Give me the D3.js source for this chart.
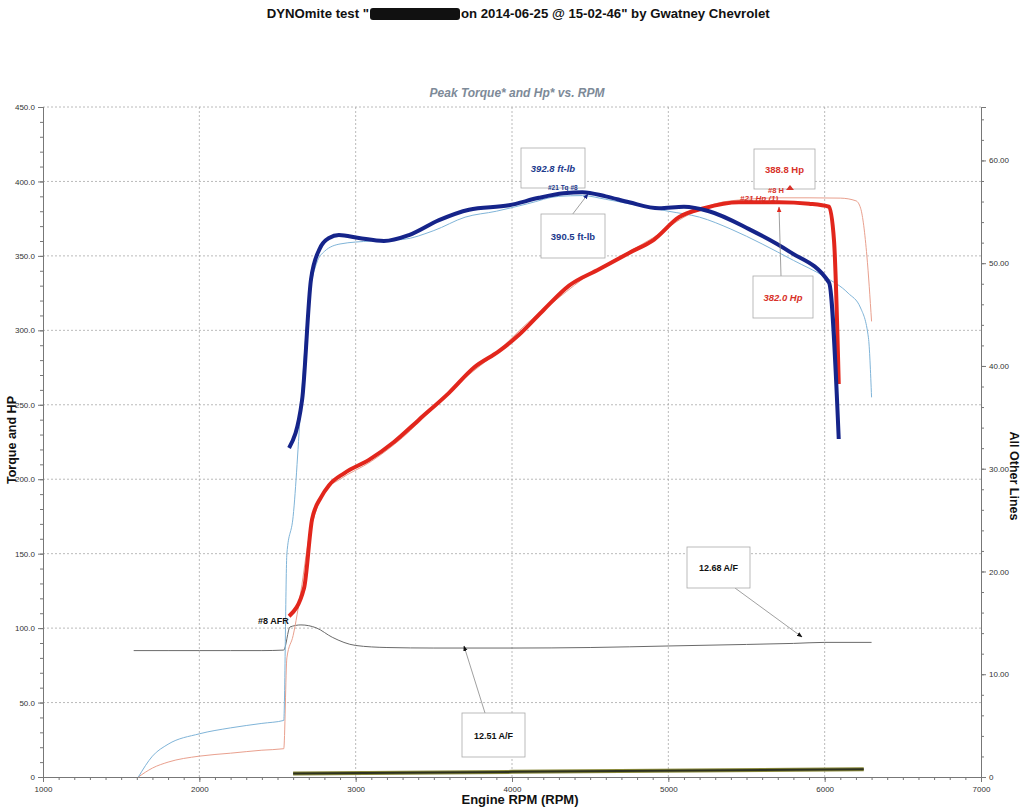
<!DOCTYPE html>
<html><head><meta charset="utf-8">
<script src="https://cdn.jsdelivr.net/npm/d3@7"></script>
<style>body{margin:0;background:#fff}svg{display:block;font-family:"Liberation Sans",Arial,sans-serif}</style>
</head><body><svg id="c" width="1024" height="810"></svg>
<script>
// ---------- data ----------
const xTicks = [1000,2000,3000,4000,5000,6000,7000];
const leftTicks = [0,50,100,150,200,250,300,350,400,450];
const leftTickLabels = ["0","50.0","100.0","150.0","200.0","250.0","300.0","350.0","400.0","450.0"];
const rightTicks = [0,10,20,30,40,50,60];
const rightTickLabels = ["0","10.00","20.00","30.00","40.00","50.00","60.00"];

// bold torque (ft-lb), current run
const tqRpm = [2574,2657,2714,2766,2830,2893,3021,3181,3341,3533,3725,3981,4173,4330,4450,4600,4749,4941,5100,5260,5516,5772,6028,6090];
const tqVal = [221,253,334,354,362,364,362,360,364,374,381,384,389,392,392.8,390,386,382,383,380,368,353,332,227];
// bold hp, current run
const hpRpm = [2574,2670,2721,2779,2830,2926,3085,3245,3405,3597,3757,3917,4045,4205,4365,4557,4749,4909,5068,5228,5452,5708,5900,6028,6060,6090];
const hpVal = [108,127,173,188,196,204,213,225,240,258,275,286,297,314,330,341,352,361,376,382,386,386,385,383,360,264];
// thin torque, previous run (#8)
const tq2Rpm = [1610,1700,1800,2000,2200,2400,2540,2560,2600,2650,2700,2750,2800,2900,3100,3300,3500,3700,3900,4100,4300,4450,4600,4800,5000,5200,5400,5600,5800,6000,6150,6230,6280,6300];
const tq2Val = [0,14,22,29,33,36,38,150,175,250,320,345,353,358,360,361,367,376,380,385,390,390.5,388,384,380,376,368,358,347,336,325,315,295,255];
// thin hp, previous run (#8)
const hp2Rpm = [1610,1700,1800,2000,2200,2400,2540,2560,2600,2650,2700,2750,2800,2900,3100,3300,3500,3700,3900,4100,4300,4500,4700,4900,5100,5300,5500,5700,5900,6100,6200,6230,6270,6300];
const hp2Val = [0,6,10,14,16,18,19,80,95,125,160,180,192,200,212,228,248,268,285,305,322,338,350,362,376,385,388,389,389,388.8,387,382,350,306];
// air/fuel ratio (right axis)
const afrRpm = [1580,1800,2000,2200,2400,2540,2580,2650,2750,2850,3000,3200,3500,4000,4500,5000,5500,5800,6000,6300];
const afrVal = [12.3,12.3,12.3,12.3,12.3,12.35,14.6,14.8,14.5,13.6,12.8,12.6,12.55,12.55,12.6,12.75,12.9,13.0,13.1,13.1];
// bottom trace (right axis)
const botRpm = [2600,4000,6250];
const botVal = [0.35,0.5,0.75];

// ---------- layout ----------
const W = 1024, H = 810;
const L = 43, R = 981, T = 107, B = 777;
const svg = d3.select("#c");
const x = d3.scaleLinear().domain([1000,7000]).range([L,R]);
const yL = d3.scaleLinear().domain([0,450]).range([B,T]);
const yR = d3.scaleLinear().domain([0,65.2]).range([B,T]);

svg.append("rect").attr("width",W).attr("height",H).attr("fill","#fff");

// title
const title = svg.append("g").attr("font-weight","bold").attr("font-size",13.2).attr("fill","#111");
title.append("text").attr("x",369).attr("y",18).attr("text-anchor","end").text('DYNOmite test "');
svg.append("rect").attr("x",370).attr("y",8).attr("width",90).attr("height",12).attr("fill","#111").attr("rx",3);
title.append("text").attr("x",461).attr("y",18).text(' on 2014-06-25 @ 15-02-46" by Gwatney Chevrolet');

svg.append("text").attr("x",517).attr("y",97).attr("text-anchor","middle")
  .attr("font-size",12).attr("font-style","italic").attr("font-weight","bold").attr("fill","#7d8a98")
  .text("Peak Torque* and Hp* vs. RPM");

// grid
const grid = svg.append("g").attr("stroke","#a8a8a8").attr("stroke-width",0.8).attr("stroke-dasharray","2,2");
grid.selectAll("line.h").data(leftTicks.filter(d=>d>0)).join("line")
  .attr("x1",L).attr("x2",R).attr("y1",d=>yL(d)).attr("y2",d=>yL(d));
grid.selectAll("line.v").data(xTicks.filter(d=>d>1000&&d<7000)).join("line")
  .attr("x1",d=>x(d)).attr("x2",d=>x(d)).attr("y1",T).attr("y2",B);

// axes
const axCol = "#777";
const gL = svg.append("g").attr("transform",`translate(${L},0)`)
  .call(d3.axisLeft(yL).tickValues(leftTicks).tickFormat((d,i)=>leftTickLabels[i]).tickSize(5));
const gLm = svg.append("g").attr("transform",`translate(${L},0)`)
  .call(d3.axisLeft(yL).tickValues(d3.range(0,451,10)).tickFormat("").tickSize(3));
const gR = svg.append("g").attr("transform",`translate(${R},0)`)
  .call(d3.axisRight(yR).tickValues(rightTicks).tickFormat((d,i)=>rightTickLabels[i]).tickSize(5));
const gRm = svg.append("g").attr("transform",`translate(${R},0)`)
  .call(d3.axisRight(yR).tickValues(d3.range(0,65,2)).tickFormat("").tickSize(3));
const gB = svg.append("g").attr("transform",`translate(0,${B})`)
  .call(d3.axisBottom(x).tickValues(xTicks).tickFormat(d3.format("d")).tickSize(5));
const gBm = svg.append("g").attr("transform",`translate(0,${B})`)
  .call(d3.axisBottom(x).tickValues(d3.range(1000,7001,100)).tickFormat("").tickSize(3));
[gL,gLm,gR,gRm,gB,gBm].forEach(g=>{
  g.selectAll("path").attr("stroke",axCol).attr("stroke-width",1);
  g.selectAll("line").attr("stroke",axCol);
  g.selectAll("text").attr("font-size",8).attr("fill","#333").attr("font-family","Liberation Sans, Arial, sans-serif");
});
gR.selectAll("text").attr("x",8);
gB.selectAll("text").attr("y",9);

// axis titles
svg.append("text").attr("transform","translate(16,440) rotate(-90)").attr("text-anchor","middle")
  .attr("font-weight","bold").attr("font-size",12.5).attr("fill","#111").text("Torque and HP");
svg.append("text").attr("transform","translate(1010,476) rotate(90)").attr("text-anchor","middle")
  .attr("font-weight","bold").attr("font-size",12.5).attr("fill","#111").text("All Other Lines");
svg.append("text").attr("x",520).attr("y",804).attr("text-anchor","middle")
  .attr("font-weight","bold").attr("font-size",13).attr("fill","#111").text("Engine RPM (RPM)");

// lines
const lineL = d3.line().x(d=>x(d[0])).y(d=>yL(d[1])).curve(d3.curveMonotoneX);
const lineR = d3.line().x(d=>x(d[0])).y(d=>yR(d[1])).curve(d3.curveMonotoneX);
const zip = (a,b)=>a.map((v,i)=>[v,b[i]]);
const plot = svg.append("g").attr("fill","none").attr("stroke-linejoin","round");

plot.append("path").attr("d",d3.line().x(d=>x(d[0])).y(d=>yR(d[1]))(zip(botRpm,botVal)))
  .attr("stroke","#8a8a3a").attr("stroke-width",4);
plot.append("path").attr("d",d3.line().x(d=>x(d[0])).y(d=>yR(d[1]))(zip(botRpm,botVal)))
  .attr("stroke","#2e3220").attr("stroke-width",2);
plot.append("path").attr("d",lineR(zip(afrRpm,afrVal))).attr("stroke","#6a6a6a").attr("stroke-width",1);
plot.append("path").attr("d",lineL(zip(hp2Rpm,hp2Val))).attr("stroke","#e9a08e").attr("stroke-width",1);
plot.append("path").attr("d",lineL(zip(tq2Rpm,tq2Val))).attr("stroke","#7fb4d8").attr("stroke-width",1);
plot.append("path").attr("d",lineL(zip(hpRpm,hpVal))).attr("stroke","#e2261c").attr("stroke-width",4);
plot.append("path").attr("d",lineL(zip(tqRpm,tqVal))).attr("stroke","#15248a").attr("stroke-width",4);

// annotations
const defs = svg.append("defs");
[["arB","#15248a"],["arR","#e2261c"],["arK","#111"]].forEach(([id,c])=>{
  defs.append("marker").attr("id",id).attr("viewBox","0 0 10 10").attr("refX",9).attr("refY",5)
    .attr("markerWidth",7).attr("markerHeight",9).attr("orient","auto-start-reverse")
    .append("path").attr("d","M0,1 L10,5 L0,9 Z").attr("fill",c);
});
const ann = svg.append("g");
function box(x0,y0,w,h,txt,col,italic,size){
  ann.append("rect").attr("x",x0).attr("y",y0).attr("width",w).attr("height",h)
    .attr("fill","#fff").attr("stroke","#aaa").attr("stroke-width",0.8);
  ann.append("text").attr("x",x0+w/2).attr("y",y0+h/2+3.5).attr("text-anchor","middle")
    .attr("font-size",size||9.5).attr("font-weight","bold").attr("font-style",italic?"italic":"normal")
    .attr("fill",col).text(txt);
}
function arrow(x1,y1,x2,y2,m){
  ann.append("line").attr("x1",x1).attr("y1",y1).attr("x2",x2).attr("y2",y2)
    .attr("stroke","#888").attr("stroke-width",0.8).attr("marker-end",`url(#${m})`);
}
// peak torque (current) -> 392.8
arrow(572,215,588,194,"arB");
box(521,148,64,40,"392.8 ft-lb","#1c3a8c",true);
box(541,214,64,44,"390.5 ft-lb","#1c3a8c",false);
ann.append("text").attr("x",548).attr("y",190).attr("font-size",6.5).attr("font-weight","bold")
  .attr("fill","#1c3a8c").text("#21 Tq #8");
// hp annotations
arrow(781,276,779,207,"arR");
box(754,149,61,40,"388.8 Hp","#d8322a",false);
box(753,276,60,42,"382.0 Hp","#d8322a",true);
ann.append("text").attr("x",740).attr("y",201).attr("font-size",8).attr("font-style","italic").attr("font-weight","bold")
  .attr("fill","#d8322a").text("#21 Hp (1)");
ann.append("text").attr("x",768).attr("y",193).attr("font-size",7.5).attr("font-weight","bold")
  .attr("fill","#d8322a").text("#8 H");
ann.append("path").attr("d","M786,190 L790,185 L794,190 Z").attr("fill","#d8322a");
// AFR annotations
arrow(485,713,464,646,"arK");
box(462,713,63,44,"12.51 A/F","#111",false,9);
arrow(735,588,802,637,"arK");
box(687,547,63,41,"12.68 A/F","#111",false,9);
ann.append("text").attr("x",258).attr("y",624).attr("font-size",9).attr("font-weight","bold")
  .attr("fill","#111").text("#8 AFR");
</script></body></html>
